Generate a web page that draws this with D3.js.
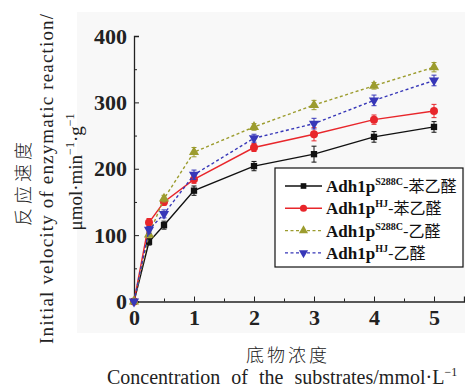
<!DOCTYPE html>
<html>
<head>
<meta charset="utf-8">
<script src="https://cdn.jsdelivr.net/npm/d3@7.9.0/dist/d3.min.js"></script>
<style>
  html, body { margin: 0; padding: 0; background: #fff; }
  svg { display: block; }
</style>
</head>
<body>
<svg id="chart" width="465" height="389"></svg>
<script>
// substrate concentrations (mmol/L)
const conc = [0, 0.25, 0.5, 1, 2, 3, 4, 5];

const seriesNames = ['S288C-苯乙醛', 'HJ-苯乙醛', 'S288C-乙醛', 'HJ-乙醛'];
const blackVals = [0, 90, 115, 167, 204, 222, 248, 263];
const redVals   = [0, 119, 150, 184, 232, 252, 274, 287];
const oliveVals = [0, 101, 155, 225, 263, 296, 325, 353];
const blueVals  = [0, 108, 132, 191, 246, 268, 303, 333];

const blackErr = [0, 5, 6, 7, 7, 12, 8, 8];
const redErr   = [0, 6, 5, 6, 6, 10, 7, 10];
const oliveErr = [0, 5, 5, 7, 5, 7, 5, 7];
const blueErr  = [0, 5, 6, 7, 6, 8, 8, 8];

const xTicks = [0, 1, 2, 3, 4, 5];
const yTicks = [0, 100, 200, 300, 400];

const series = [
  { sup: 'S288C', cn: '-苯乙醛', vals: blackVals, err: blackErr, color: '#111', dash: null, sym: d3.symbolSquare, size: 40 },
  { sup: 'HJ', cn: '-苯乙醛', vals: redVals, err: redErr, color: '#e8262b', dash: null, sym: d3.symbolCircle, size: 50 },
  { sup: 'S288C', cn: '-乙醛', vals: oliveVals, err: oliveErr, color: '#9c9c2e', dash: '3,2.5', sym: d3.symbolTriangle, size: 45 },
  { sup: 'HJ', cn: '-乙醛', vals: blueVals, err: blueErr, color: '#3737b8', dash: '3,2.5', sym: d3.symbolTriangle, size: 45, flip: true }
];

const svg = d3.select('#chart');

// light panel behind the plot
svg.append('rect').attr('x', 77).attr('y', 12).attr('width', 388).attr('height', 321).attr('fill', '#f8f8f8');

const x = d3.scaleLinear().domain([0, 5.5]).range([134, 464]);
const y = d3.scaleLinear().domain([0, 400]).range([301.5, 36]);

const serif = '"Liberation Serif", "Times New Roman", serif';
const cjk = '"Noto Sans CJK SC", sans-serif';

// axes: ticks pointing inward
const xAxis = d3.axisBottom(x).tickValues(xTicks).tickSize(-5).tickFormat(d3.format('d')).tickPadding(10);
const xMinor = d3.axisBottom(x).tickValues(d3.range(0.5, 5.6, 1)).tickSize(-3).tickFormat('');
const yAxis = d3.axisLeft(y).tickValues(yTicks).tickSize(-5).tickPadding(7);
const yMinor = d3.axisLeft(y).tickValues([50, 150, 250, 350]).tickSize(-3).tickFormat('');

const gx = svg.append('g').attr('transform', `translate(0,${y(0)})`).call(xAxis);
svg.append('g').attr('transform', `translate(0,${y(0)})`).call(xMinor).select('.domain').remove();
const gy = svg.append('g').attr('transform', `translate(${x(0)},0)`).call(yAxis);
svg.append('g').attr('transform', `translate(${x(0)},0)`).call(yMinor).select('.domain').remove();

[gx, gy].forEach(g => {
  g.select('.domain').attr('stroke', '#222').attr('stroke-width', 1.3);
  g.selectAll('.tick line').attr('stroke', '#222').attr('stroke-width', 1);
  g.selectAll('.tick text').attr('font-family', serif).attr('font-weight', 'bold')
    .attr('font-size', 22).attr('fill', '#222');
});
gx.selectAll('.tick text').attr('dy', '0.62em');
svg.selectAll('g').filter(function () { return this.querySelector('.tick line') && true; })
  .selectAll('.tick line').attr('stroke', '#222');

// series
const line = d3.line().x(d => x(d[0])).y(d => y(d[1]));

series.forEach(s => {
  const pts = conc.map((c, i) => [c, s.vals[i], s.err[i]]);
  const g = svg.append('g');
  g.append('path').datum(pts).attr('d', line).attr('fill', 'none')
    .attr('stroke', s.color).attr('stroke-width', 1.4).attr('stroke-dasharray', s.dash);
  // error bars
  g.selectAll('.err').data(pts.filter(p => p[2] > 0)).join('path')
    .attr('d', p => {
      const cx = x(p[0]), y1 = y(p[1] - p[2]), y2 = y(p[1] + p[2]);
      return `M${cx - 2.5},${y1}H${cx + 2.5}M${cx},${y1}V${y2}M${cx - 2.5},${y2}H${cx + 2.5}`;
    })
    .attr('stroke', s.color).attr('stroke-width', 1).attr('fill', 'none');
  g.selectAll('.mk').data(pts).join('path')
    .attr('d', d3.symbol(s.sym, s.size))
    .attr('transform', p => `translate(${x(p[0])},${y(p[1])})${s.flip ? ' rotate(180)' : ''}`)
    .attr('fill', s.color);
});

// legend
const lg = svg.append('g');
lg.append('rect').attr('x', 275).attr('y', 168).attr('width', 188).attr('height', 99)
  .attr('fill', '#fff').attr('stroke', '#111').attr('stroke-width', 1.2);
series.forEach((s, i) => {
  const ly = 186 + i * 22.3;
  lg.append('line').attr('x1', 285).attr('x2', 322).attr('y1', ly).attr('y2', ly)
    .attr('stroke', s.color).attr('stroke-width', 1.4).attr('stroke-dasharray', s.dash);
  lg.append('path').attr('d', d3.symbol(s.sym, s.size * 0.8))
    .attr('transform', `translate(303.5,${ly})${s.flip ? ' rotate(180)' : ''}`).attr('fill', s.color);
  const t = lg.append('text').attr('x', 326).attr('y', ly + 6).attr('fill', '#111')
    .attr('font-family', serif).attr('font-weight', 'bold').attr('font-size', 17);
  t.append('tspan').text('Adh1p');
  t.append('tspan').text(s.sup).attr('font-size', 10).attr('dy', -7);
  t.append('tspan').text(s.cn).attr('dy', 7).attr('font-family', cjk).attr('font-weight', 'normal').attr('font-size', 16);
});

// y title (three rotated lines)
const yt = svg.append('g').attr('fill', '#222');
yt.append('text').attr('transform', 'translate(30,182) rotate(-90)').attr('text-anchor', 'middle')
  .attr('font-family', cjk).attr('font-size', 18).attr('font-weight', 300)
  .attr('letter-spacing', 4).text('反应速度');
yt.append('text').attr('transform', 'translate(53,179) rotate(-90)').attr('text-anchor', 'middle')
  .attr('font-family', serif).attr('font-size', 19)
  .attr('textLength', 330).attr('lengthAdjust', 'spacing')
  .text('Initial velocity of enzymatic reaction/');
const ut = yt.append('text').attr('transform', 'translate(82,172) rotate(-90)').attr('text-anchor', 'middle')
  .attr('font-family', serif).attr('font-size', 19);
ut.append('tspan').text('μmol·min');
ut.append('tspan').text('−1').attr('font-size', 12).attr('dy', -8);
ut.append('tspan').text('·g').attr('dy', 8);
ut.append('tspan').text('−1').attr('font-size', 12).attr('dy', -8);

// x title
svg.append('text').attr('x', 288).attr('y', 362).attr('text-anchor', 'middle')
  .attr('font-family', cjk).attr('font-size', 18).attr('font-weight', 300).attr('fill', '#222')
  .attr('letter-spacing', 3).text('底物浓度');
const xt = svg.append('text').attr('x', 107).attr('y', 384).attr('fill', '#222')
  .attr('font-family', serif).attr('font-size', 20).attr('word-spacing', 6);
xt.append('tspan').text('Concentration of the substrates/mmol·L');
xt.append('tspan').text('−1').attr('font-size', 12).attr('dy', -8);
</script>
</body>
</html>
